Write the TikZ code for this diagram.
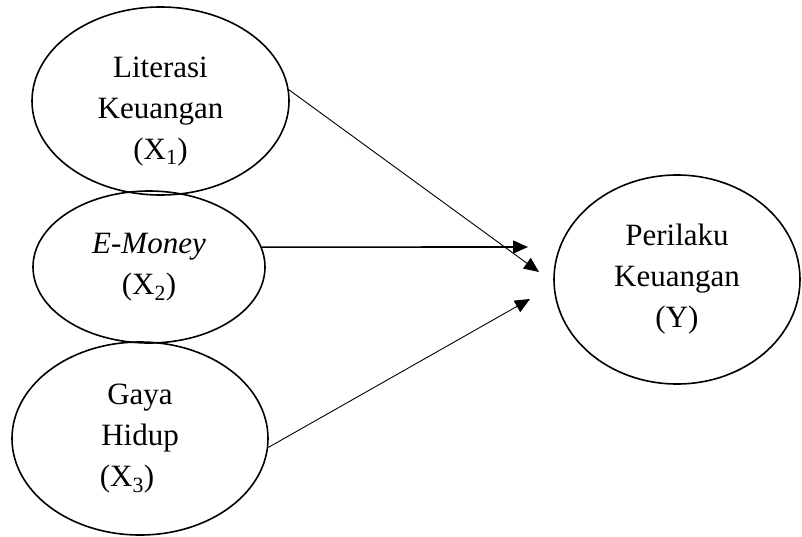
\documentclass[tikz,border=0pt]{standalone}
\usepackage{fontspec}
\setmainfont{Liberation Serif}
\usepackage{tikz}
\usetikzlibrary{arrows.meta}
\usetikzlibrary{shapes.geometric}
\tikzset{
    var/.style={
        draw,
        ellipse,
        line width=1.6pt,
        inner sep=0pt,
        align=center,
        font=\fontsize{31}{41}\selectfont
    },
    path/.style={
        -{Triangle[length=15pt, width=13pt]},
        line width=0.9pt
    }
}

\begin{document}
\begin{tikzpicture}[x=1pt, y=-1pt]
    \useasboundingbox (0,0) rectangle (802,536);
    % Variables
    \node[var, minimum width=257pt, minimum height=188pt] (x1) at (160.5,101)
        {\rule{0pt}{41pt}Literasi\\Keuangan\\(X\textsubscript{1})};
    \node[var, minimum width=232pt, minimum height=152pt] (x2) at (149,267)
        {\textit{E-Money}\\(X\textsubscript{2})};
    \node[var, minimum width=256pt, minimum height=193pt] (x3) at (140,438.5)
        {Gaya\\Hidup\\(X\textsubscript{3})\hspace*{26pt}};
    \node[var, minimum width=246pt, minimum height=209pt] (y) at (677,279.5)
        {Perilaku\\Keuangan\\(Y)};

    % Arrow tips
    \coordinate (p1) at (539,272);
    \coordinate (p2) at (528,247);
    \coordinate (p3) at (530,299);

    % Edges
    \draw[path] (x1.5) -- (p1);
    \draw[path, line width=1.6pt] (x2.10) -- (p2);
    \draw[path] (x3.-4) -- (p3);
\end{tikzpicture}
\end{document}
